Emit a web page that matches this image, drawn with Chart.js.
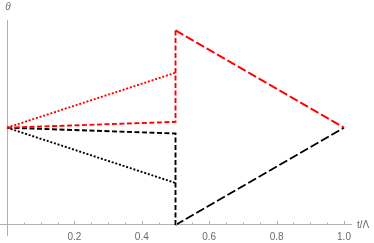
<!DOCTYPE html>
<html><head><meta charset="utf-8">
<script src="https://cdn.jsdelivr.net/npm/chart.js@4"></script>
<style>html,body{margin:0;padding:0;background:#fff}canvas{display:block}</style>
</head><body>
<canvas id="c" width="374" height="243"></canvas>
<script>
// data (t/Λ, θ)
const redDashedT = [0, 0.5, 0.5];
const redDashedY = [1, 1.06, 2.0];
const redLongT = [0.5, 1.0];
const redLongY = [2.0, 1.0];
const redDottedT = [0, 0.5];
const redDottedY = [1, 1.565];
const blackDashedT = [0, 0.5, 0.5];
const blackDashedY = [1, 0.94, 0];
const blackLongT = [0.5, 1.0];
const blackLongY = [0, 1];
const blackDottedT = [0, 0.5];
const blackDottedY = [1, 0.432];
const xTickLabels = [0.2, 0.4, 0.6, 0.8, 1.0];
const minorTicks = [0.05,0.1,0.15,0.2,0.25,0.3,0.35,0.4,0.45,0.5,0.55,0.6,0.65,0.7,0.75,0.8,0.85,0.9,0.95,1.0];
const xAxisLabel = 't/\u039b';
const yAxisLabel = '\u03b8';

const pts = (xs, ys) => xs.map((x, i) => ({x: x, y: ys[i]}));
const ds = (xs, ys, color, dash) => ({
  data: pts(xs, ys), borderColor: color, borderWidth: 1.9, borderDash: dash,
  pointRadius: 0, showLine: true, fill: false, tension: 0, borderCapStyle: 'butt'
});

const axisColor = '#b0b0b0';
const textColor = '#6a6a6a';

const extras = {
  id: 'extras',
  afterDraw(chart) {
    const ctx = chart.ctx, xs = chart.scales.x, ys = chart.scales.y;
    const y0 = ys.getPixelForValue(0);
    ctx.save();
    ctx.strokeStyle = axisColor; ctx.lineWidth = 1;
    minorTicks.forEach(v => {
      const px = Math.round(xs.getPixelForValue(v)) + 0.5;
      const major = Math.abs(v * 5 - Math.round(v * 5)) < 1e-6;
      ctx.beginPath(); ctx.moveTo(px, y0); ctx.lineTo(px, y0 - (major ? 4 : 2.5)); ctx.stroke();
    });
    ctx.fillStyle = textColor;
    ctx.font = '10px "Liberation Sans", Arial, sans-serif';
    ctx.textBaseline = 'middle'; ctx.textAlign = 'left';
    ctx.fillText(xAxisLabel, chart.chartArea.right + 6, y0);
    ctx.font = 'italic 10px "Liberation Sans", Arial, sans-serif';
    ctx.textAlign = 'center';
    ctx.fillText(yAxisLabel, xs.getPixelForValue(0) + 1, 7);
    ctx.restore();
  }
};

new Chart(document.getElementById('c'), {
  type: 'scatter',
  data: { datasets: [
    ds(redDashedT, redDashedY, '#ff0000', [5, 2.5]),
    ds(redLongT, redLongY, '#ff0000', [9, 3]),
    ds(redDottedT, redDottedY, '#ff0000', [2, 1.8]),
    ds(blackDashedT, blackDashedY, '#000000', [5, 2.5]),
    ds(blackLongT, blackLongY, '#000000', [9, 3]),
    ds(blackDottedT, blackDottedY, '#000000', [2, 1.8])
  ]},
  options: {
    responsive: false, animation: false,
    layout: { padding: { top: 20, left: 0, right: 23, bottom: 8 } },
    plugins: { legend: { display: false }, tooltip: { enabled: false } },
    scales: {
      x: {
        type: 'linear', min: -0.0208, max: 1.0208, position: { y: 0 },
        border: { display: true, color: axisColor, width: 1 },
        grid: { display: true, drawOnChartArea: false, drawTicks: false },
        afterBuildTicks: s => { s.ticks = xTickLabels.map(v => ({ value: v })); },
        ticks: { color: textColor, padding: 6, maxRotation: 0, autoSkip: false,
          font: { size: 10, family: '"Liberation Sans", Arial, sans-serif' },
          callback: v => Number(v).toFixed(1) }
      },
      y: {
        type: 'linear', min: -0.103, max: 2.107, position: { x: 0 },
        border: { display: true, color: axisColor, width: 1 },
        grid: { display: true, drawOnChartArea: false, drawTicks: false },
        ticks: { display: false }
      }
    }
  },
  plugins: [extras]
});
</script>
</body></html>
